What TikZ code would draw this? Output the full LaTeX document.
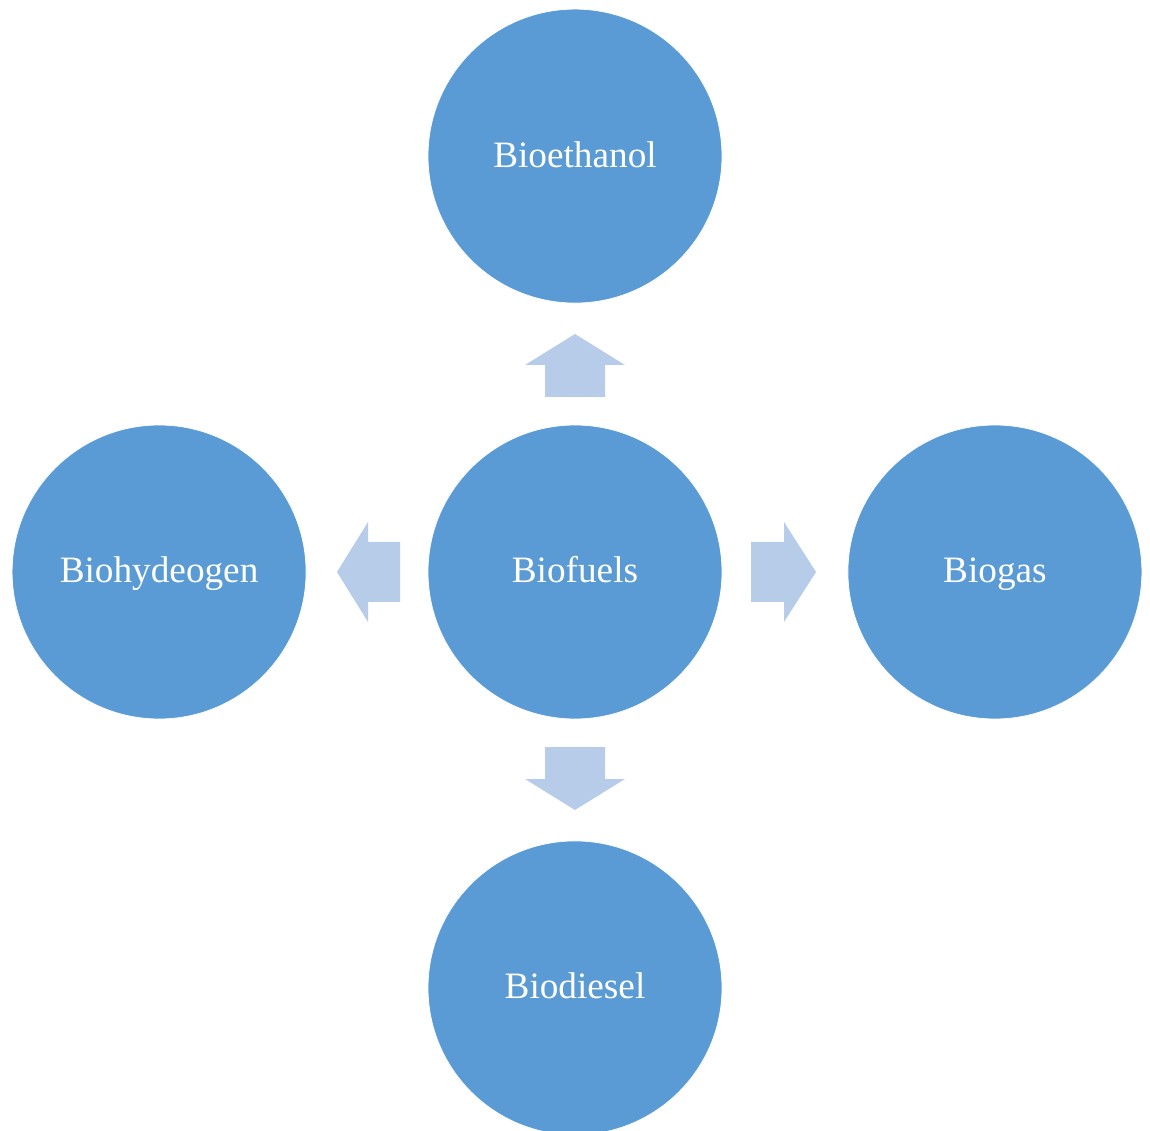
\documentclass[tikz,border=0pt]{standalone}
\usepackage{fontspec}
\setmainfont{Liberation Serif}
\usepackage{tikz}
\usetikzlibrary{positioning}

\definecolor{circblue}{HTML}{5B9BD5}
\definecolor{arrowblue}{HTML}{B7CCE8}

\begin{document}
\begin{tikzpicture}[
  x=0.02cm, y=-0.02cm,
  circ/.style = {circle, fill=circblue, draw=white, line width=0.4pt, minimum size=5.88cm, inner sep=0pt, outer sep=0pt,
                 text=white, font=\fontsize{21.2}{25}\selectfont, text height=1.45em, text depth=0.2em},
  bigarrow/.style = {fill=arrowblue},
  node distance=2.44cm and 2.44cm
]
  \useasboundingbox (0,0) rectangle (1150,1131);

  % Centre and the four kinds
  \node[circ] (fuels) at (575,572) {Biofuels};
  \node[circ, above=of fuels] (ethanol) {Bioethanol};
  \node[circ, below=of fuels] (diesel) {Biodiesel};
  \node[circ, left=of fuels] (hydrogen) {Biohydeogen};
  \node[circ, right=2.52cm of fuels] (gas) {Biogas};

  % Block arrows out of the centre
  \foreach \ang in {90, 180, 270} {
    \fill[bigarrow, shift={(fuels.center)}, rotate=\ang]
      (175,-30) -- (207,-30) -- (207,-50) -- (238,0) -- (207,50) -- (207,30) -- (175,30) -- cycle;
  }
  \fill[bigarrow, shift={(fuels.center)}]
    (176,-30) -- (209,-30) -- (209,-50) -- (241,0) -- (209,50) -- (209,30) -- (176,30) -- cycle;

\end{tikzpicture}
\end{document}
